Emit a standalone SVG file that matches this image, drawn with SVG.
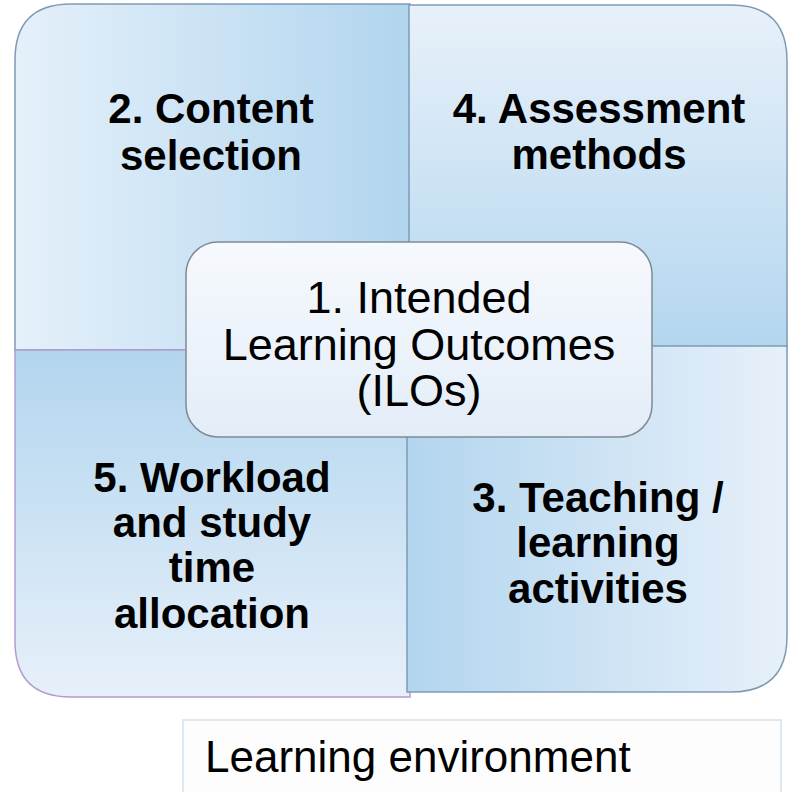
<svg xmlns="http://www.w3.org/2000/svg" width="790" height="792" viewBox="0 0 790 792">
<defs>
<linearGradient id="gH1" x1="0" y1="0" x2="1" y2="0"><stop offset="0" stop-color="#e5f0fa"/><stop offset="1" stop-color="#b1d5ee"/></linearGradient>
<linearGradient id="gV1" x1="0" y1="0" x2="0" y2="1"><stop offset="0" stop-color="#e8f1fa"/><stop offset="1" stop-color="#b3d6ef"/></linearGradient>
<linearGradient id="gV2" x1="0" y1="0" x2="0" y2="1"><stop offset="0" stop-color="#b2d5ee"/><stop offset="1" stop-color="#e7f0fa"/></linearGradient>
<linearGradient id="gH2" x1="0" y1="0" x2="1" y2="0"><stop offset="0" stop-color="#b2d5ee"/><stop offset="1" stop-color="#e7f0fa"/></linearGradient>
<linearGradient id="gC" x1="0" y1="0" x2="0" y2="1"><stop offset="0" stop-color="#f6f9fd"/><stop offset="1" stop-color="#e3edf8"/></linearGradient>
</defs>
<style>
.q{stroke:#7f9bb4;stroke-width:1.5}
.b{font-family:"Liberation Sans",Arial,sans-serif;font-weight:bold;font-size:42px;fill:#000;text-anchor:middle}
.r{font-family:"Liberation Sans",Arial,sans-serif;font-size:45px;fill:#000;text-anchor:middle}
</style>
<rect width="790" height="792" fill="#ffffff"/>
<g id="q2">
<path class="q" fill="url(#gH1)" d="M15,350 L15,60 Q15,4 71,4 L410,4 L410,350 Z"/>
<text class="b" x="211" y="123">2. Content</text>
<text class="b" x="211" y="170">selection</text>
</g>
<g id="q4">
<path class="q" fill="url(#gV1)" d="M409,5 L731,5 Q787,5 787,61 L787,347 L409,347 Z"/>
<text class="b" x="599" y="123">4. Assessment</text>
<text class="b" x="599" y="169">methods</text>
</g>
<g id="q5">
<path fill="url(#gV2)" stroke="#b49ccf" stroke-width="1.5" d="M15,350 L410,350 L410,697 L71,697 Q15,697 15,641 Z"/>
<text class="b" x="212" y="492">5. Workload</text>
<text class="b" x="212" y="537">and study</text>
<text class="b" x="212" y="582">time</text>
<text class="b" x="212" y="628">allocation</text>
</g>
<g id="q3">
<path class="q" fill="url(#gH2)" d="M407,346 L787,346 L787,636 Q787,692 731,692 L407,692 Z"/>
<text class="b" x="598" y="512">3. Teaching /</text>
<text class="b" x="598" y="557">learning</text>
<text class="b" x="598" y="603">activities</text>
</g>
<g id="ilo">
<rect x="186" y="242" width="466" height="195" rx="32" ry="32" fill="url(#gC)" stroke="#808a94" stroke-width="1.5"/>
<text class="r" x="419" y="313">1. Intended</text>
<text class="r" x="419" y="360">Learning Outcomes</text>
<text class="r" x="419" y="406">(ILOs)</text>
</g>
<g id="env">
<rect x="183" y="720" width="598" height="90" fill="#fdfdfd" stroke="#dde8f0" stroke-width="2"/>
<text class="r" x="205" y="772" style="text-anchor:start;font-size:44px">Learning environment</text>
</g>
<g id="connectors"/>
</svg>
